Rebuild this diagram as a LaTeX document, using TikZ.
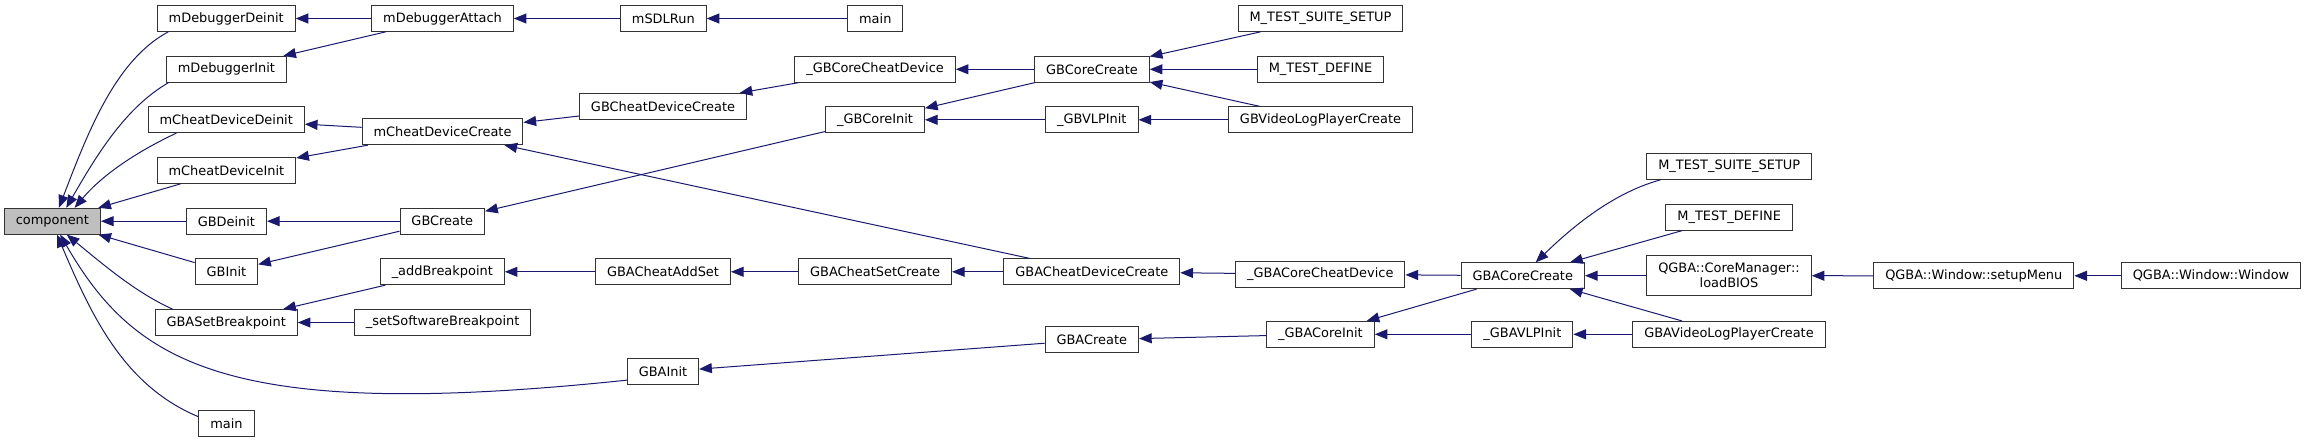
\documentclass[tikz,border=0pt]{standalone}
\usepackage{fontspec}
\setmainfont{DejaVu Sans}
\usepackage{tikz}
\usetikzlibrary{arrows.meta, positioning}
\definecolor{callcolor}{HTML}{191970}
\definecolor{boxcolor}{HTML}{333333}
\definecolor{rootcolor}{HTML}{BFBFBF}

\begin{document}
\begin{tikzpicture}[
    x=0.75pt, y=0.75pt,
    fnbox/.style={draw=boxcolor, line width=0.75pt, rectangle, fill=white,
        inner xsep=8.6pt, inner ysep=0pt, minimum height=19.3pt,
        font=\fontsize{9.7}{11.25}\selectfont},
    rootbox/.style={fnbox, fill=rootcolor},
    callarrow/.style={draw=callcolor, line width=0.75pt,
        -{Triangle[length=9.5pt, width=7.5pt]}}
]
    \useasboundingbox (0,0) rectangle (2307,-443);

    % Root
    \node[rootbox] (component) at (52.4,-221.2) {component};

    % Direct callers
    \node[fnbox] (dbgDeinit) at (226.2,-18.5) {mDebuggerDeinit};
    \node[fnbox] (dbgInit) at (226.4,-69.3) {mDebuggerInit};
    \node[fnbox] (cheatDeinit) at (226.2,-119.8) {mCheatDeviceDeinit};
    \node[fnbox] (cheatInit) at (226.4,-170.5) {mCheatDeviceInit};
    \node[fnbox] (gbDeinit) at (226.4,-221.2) {GBDeinit};
    \node[fnbox] (gbInit) at (226.4,-271.8) {GBInit};
    \node[fnbox] (gbaSetBp) at (226.2,-322.5) {GBASetBreakpoint};
    \node[fnbox] (mainBot) at (226.5,-423.7) {main};

    % Second level
    \node[fnbox] (dbgAttach) at (442.5,-18.5) {mDebuggerAttach};
    \node[fnbox] (cheatCreate) at (442.5,-131.8) {mCheatDeviceCreate};
    \node[fnbox] (gbCreate) at (442.3,-221.2) {GBCreate};
    \node[fnbox] (addBp) at (442.3,-271.8) {\_addBreakpoint};
    \node[fnbox] (setSwBp) at (442.7,-322.5) {\_setSoftwareBreakpoint};

    % Third level
    \node[fnbox] (sdlRun) at (663.3,-18.5) {mSDLRun};
    \node[fnbox] (gbCheatCreate) at (663,-106.3) {GBCheatDeviceCreate};
    \node[fnbox] (gbaCheatAddSet) at (663,-271.8) {GBACheatAddSet};
    \node[fnbox] (gbaInit) at (663,-371.8) {GBAInit};

    % Fourth level
    \node[fnbox] (mainTop) at (875.3,-18.5) {main};
    \node[fnbox] (gbCoreCheat) at (875.1,-69.3) {\_GBCoreCheatDevice};
    \node[fnbox] (gbCoreInit) at (875.1,-119.8) {\_GBCoreInit};
    \node[fnbox] (gbaCheatSetCreate) at (875.1,-271.8) {GBACheatSetCreate};

    % Fifth level
    \node[fnbox] (gbCoreCreate) at (1092,-69.3) {GBCoreCreate};
    \node[fnbox] (gbVlpInit) at (1091.8,-119.8) {\_GBVLPInit};
    \node[fnbox] (gbaCheatCreate) at (1091.9,-271.8) {GBACheatDeviceCreate};
    \node[fnbox] (gbaCreate) at (1091.8,-339.7) {GBACreate};

    % Sixth level
    \node[fnbox] (testSetupA) at (1320.5,-18.5) {M\_TEST\_SUITE\_SETUP};
    \node[fnbox] (testDefineA) at (1320.5,-69.3) {M\_TEST\_DEFINE};
    \node[fnbox] (gbVideoPlayer) at (1320.5,-119.8) {GBVideoLogPlayerCreate};
    \node[fnbox] (gbaCoreCheat) at (1320.3,-274.3) {\_GBACoreCheatDevice};
    \node[fnbox] (gbaCoreInit) at (1320.5,-334.3) {\_GBACoreInit};

    % GBA core and its callers
    \node[fnbox] (gbaCoreCreate) at (1522.8,-275.7) {GBACoreCreate};
    \node[fnbox] (gbaVlpInit) at (1522.4,-334.3) {\_GBAVLPInit};
    \node[fnbox] (testSetupB) at (1729.2,-166.5) {M\_TEST\_SUITE\_SETUP};
    \node[fnbox] (testDefineB) at (1729.2,-217.3) {M\_TEST\_DEFINE};
    \node[fnbox, align=center, minimum height=30pt] (loadBios) at (1729,-275.7) {QGBA::CoreManager::\\loadBIOS};
    \node[fnbox] (gbaVideoPlayer) at (1729,-334.3) {GBAVideoLogPlayerCreate};
    \node[fnbox] (setupMenu) at (1973.8,-275.8) {QGBA::Window::setupMenu};
    \node[fnbox] (qWindow) at (2211,-275.8) {QGBA::Window::Window};

    % Calls into component
    \draw[callarrow] (dbgDeinit.193) .. controls +(208:60) and +(69:80) .. (component.64);
    \draw[callarrow] (dbgInit.193) .. controls +(210:50) and +(60:60) .. (component.44);
    \draw[callarrow] (cheatDeinit.195) .. controls +(205:40) and +(50:45) .. (component.31);
    \draw[callarrow] (cheatInit) -- (component);
    \draw[callarrow] (gbDeinit) -- (component);
    \draw[callarrow] (gbInit) -- (component);
    \draw[callarrow] (gbaSetBp.166) .. controls +(155.6:40) and +(-39.4:50) .. (component.-43);
    \draw[callarrow] (gbaInit.193) .. controls +(186:400) and +(-60:150) .. (component.-60);
    \draw[callarrow] (mainBot.166) .. controls +(157.4:80) and +(-67:90) .. (component.-71);

    % Debugger branch
    \draw[callarrow] (dbgAttach) -- (dbgDeinit);
    \draw[callarrow] (dbgAttach) -- (dbgInit);
    \draw[callarrow] (sdlRun) -- (dbgAttach);
    \draw[callarrow] (mainTop) -- (sdlRun);

    % Cheat branch
    \draw[callarrow] (cheatCreate) -- (cheatDeinit);
    \draw[callarrow] (cheatCreate) -- (cheatInit);
    \draw[callarrow] (gbCheatCreate) -- (cheatCreate);
    \draw[callarrow] (gbaCheatCreate) -- (cheatCreate);
    \draw[callarrow] (gbCoreCheat) -- (gbCheatCreate);
    \draw[callarrow] (gbCoreCreate) -- (gbCoreCheat);

    % GB branch
    \draw[callarrow] (gbCreate) -- (gbDeinit);
    \draw[callarrow] (gbCreate) -- (gbInit);
    \draw[callarrow] (gbCoreInit) -- (gbCreate);
    \draw[callarrow] (gbCoreCreate) -- (gbCoreInit);
    \draw[callarrow] (gbVlpInit) -- (gbCoreInit);
    \draw[callarrow] (testSetupA) -- (gbCoreCreate);
    \draw[callarrow] (testDefineA) -- (gbCoreCreate);
    \draw[callarrow] (gbVideoPlayer) -- (gbCoreCreate);
    \draw[callarrow] (gbVideoPlayer) -- (gbVlpInit);

    % Breakpoint branch
    \draw[callarrow] (addBp) -- (gbaSetBp);
    \draw[callarrow] (setSwBp) -- (gbaSetBp);
    \draw[callarrow] (gbaCheatAddSet) -- (addBp);
    \draw[callarrow] (gbaCheatSetCreate) -- (gbaCheatAddSet);
    \draw[callarrow] (gbaCheatCreate) -- (gbaCheatSetCreate);
    \draw[callarrow] (gbaCoreCheat) -- (gbaCheatCreate);

    % GBA branch
    \draw[callarrow] (gbaCoreCreate) -- (gbaCoreCheat);
    \draw[callarrow] (gbaCoreCreate) -- (gbaCoreInit);
    \draw[callarrow] (gbaVlpInit) -- (gbaCoreInit);
    \draw[callarrow] (gbaCoreInit) -- (gbaCreate);
    \draw[callarrow] (gbaCreate) -- (gbaInit);
    \draw[callarrow] (testSetupB.191) .. controls +(195.4:50) and +(44:50) .. (gbaCoreCreate.46);
    \draw[callarrow] (testDefineB) -- (gbaCoreCreate);
    \draw[callarrow] (loadBios) -- (gbaCoreCreate);
    \draw[callarrow] (gbaVideoPlayer) -- (gbaCoreCreate);
    \draw[callarrow] (gbaVideoPlayer) -- (gbaVlpInit);
    \draw[callarrow] (setupMenu) -- (loadBios);
    \draw[callarrow] (qWindow) -- (setupMenu);
\end{tikzpicture}
\end{document}
